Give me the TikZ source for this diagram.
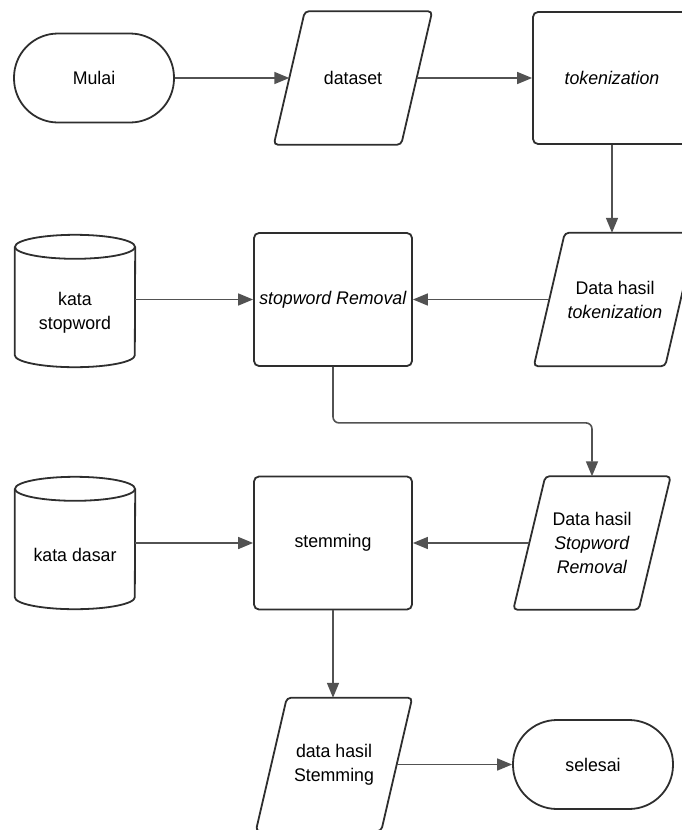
\documentclass[tikz,border=0pt]{standalone}
\usepackage{fontspec}
\setmainfont[FakeStretch=0.97]{Liberation Sans}
\usetikzlibrary{arrows.meta}
\newcommand\iopara[2]{%
  \draw[shapeline, rounded corners=4pt] ([xshift=-#2]#1.south west) -- ([xshift=-#2]#1.south east) -- ([xshift=#2]#1.north east) -- ([xshift=#2]#1.north west) -- cycle;}
\newcommand\dbcyl[1]{%
  \draw[shapeline] ([yshift=12pt]#1.north west) -- ([yshift=12pt]#1.south west) arc[start angle=180,end angle=360,x radius=60pt,y radius=12pt] -- ([yshift=12pt]#1.north east);
  \draw[shapeline] ([yshift=12pt]#1.north) ellipse [x radius=60pt, y radius=12pt];}
\begin{document}
\begin{tikzpicture}[x=1pt,y=1pt,
  shapeline/.style={draw=black!82, line width=1.8pt},
  procbox/.style={shapeline, rectangle, rounded corners=5pt, minimum width=158pt, minimum height=132pt, inner sep=1pt, align=center},
  termbox/.style={shapeline, rectangle, rounded corners=44pt, minimum width=160pt, minimum height=89pt, align=center},
  iobox/.style={rectangle, minimum height=133pt, inner sep=0pt, align=center},
  dbbox/.style={rectangle, minimum width=120pt, minimum height=108pt, inner sep=0pt, align=center},
  conn/.style={draw=black!68, line width=1.6pt, -{Triangle[length=15pt,width=12pt]}},
  font=\fontsize{18.3}{24}\selectfont
]
\useasboundingbox (0,0) rectangle (682,-830);
\clip (0,0) rectangle (682,-830);

\node[termbox] (mulai) at (94,-78) {Mulai};
\node[iobox, minimum width=127pt] (ds) at (353,-78) {dataset};
\node[procbox] (tok) at (612,-78) {\textit{tokenization}};
\node[dbbox] (ks) at (75,-313) {kata\\stopword};
\node[procbox, minimum height=133pt] (sr) at (333,-299.5) {\textit{stopword Removal}};
\node[iobox, minimum width=131pt] (dht) at (615,-299.5) {Data hasil\\\textit{tokenization}};
\node[dbbox] (kd) at (75,-555) {kata dasar};
\node[procbox, minimum height=133pt] (stem) at (333,-543) {stemming};
\node[iobox, minimum width=125pt] (dhsr) at (592,-543) {Data hasil\\\textit{Stopword}\\\textit{Removal}};
\node[iobox, minimum width=125pt] (dhs) at (334,-764.5) {data hasil\\Stemming};
\node[termbox] (sel) at (593,-764.5) {selesai};

\iopara{ds}{15.5pt}
\iopara{dht}{15.5pt}
\iopara{dhsr}{16pt}
\iopara{dhs}{15.5pt}
\dbcyl{ks}
\dbcyl{kd}

\draw[conn] (mulai) -- (ds);
\draw[conn] (ds) -- (tok);
\draw[conn] (tok.south) -- (tok.south |- dht.north);
\draw[conn] (dht) -- (sr);
\draw[conn] (ks.east |- sr.west) -- (sr.west);
\draw[conn, rounded corners=6pt] (sr.south) -- ([yshift=-56pt]sr.south) -| (dhsr.north);
\draw[conn] (dhsr) -- (stem);
\draw[conn] (kd.east |- stem.west) -- (stem.west);
\draw[conn] (stem.south) -- (stem.south |- dhs.north);
\draw[conn] (dhs) -- (sel);
\end{tikzpicture}
\end{document}
